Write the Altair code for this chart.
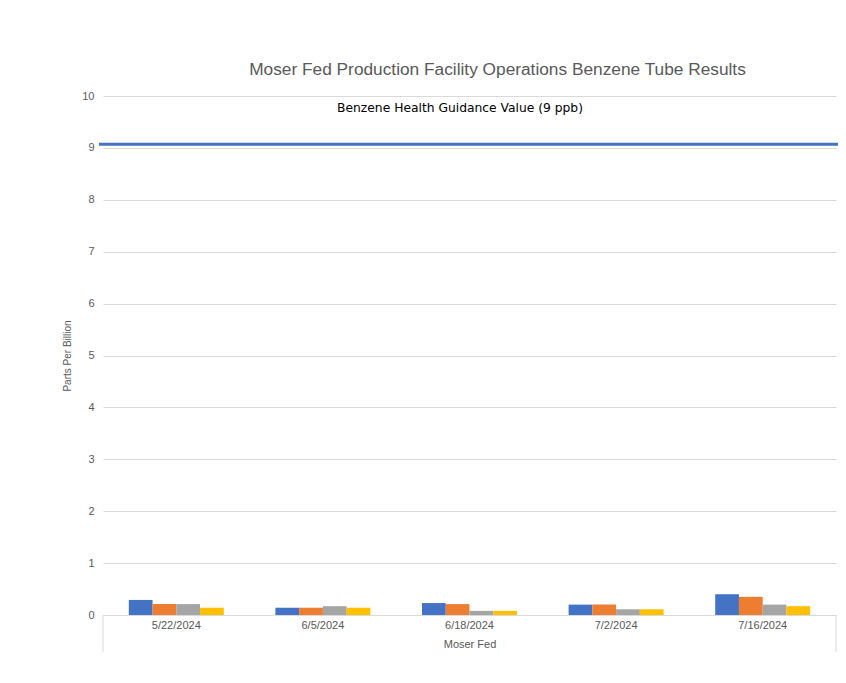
import altair as alt
import pandas as pd

dates = ["5/22/2024", "6/5/2024", "6/18/2024", "7/2/2024", "7/16/2024"]
series = ["Tube 1", "Tube 2", "Tube 3", "Tube 4"]
tube1 = [0.29, 0.14, 0.23, 0.20, 0.40]
tube2 = [0.21, 0.14, 0.21, 0.20, 0.35]
tube3 = [0.21, 0.17, 0.08, 0.11, 0.20]
tube4 = [0.14, 0.14, 0.08, 0.11, 0.17]
colors = ["#4472C4", "#ED7D31", "#A5A5A5", "#FFC000"]
y_ticks = [0, 1, 2, 3, 4, 5, 6, 7, 8, 9, 10]
guidance_value = 9.07
guidance_label = "Benzene Health Guidance Value (9 ppb)"
label_level = 9.77

rows = []
for s, vals in zip(series, [tube1, tube2, tube3, tube4]):
    for d, v in zip(dates, vals):
        rows.append({"date": d, "series": s, "ppb": v})
df = pd.DataFrame(rows)

W, H = 733, 519
GRID = "#d9d9d9"
TXT = "#595959"
FONT = "Liberation Sans"

x_enc = alt.X("date:N", sort=dates,
              scale=alt.Scale(paddingInner=0.352, paddingOuter=0.176),
              axis=alt.Axis(title="Moser Fed", labelAngle=0, ticks=False,
                            domainColor=GRID, labelColor=TXT, labelFontSize=11,
                            labelFont=FONT, labelPadding=4, titleColor=TXT,
                            titleFont=FONT, titleFontSize=11, titleFontWeight="normal",
                            titlePadding=8))

bars = alt.Chart(df).mark_bar().encode(
    x=x_enc,
    xOffset=alt.XOffset("series:N", sort=series, scale=alt.Scale(paddingInner=0, paddingOuter=0)),
    y=alt.Y("ppb:Q", scale=alt.Scale(domain=[0, 10], nice=False),
            axis=alt.Axis(values=y_ticks, title="Parts Per Billion", domain=False, ticks=False,
                          gridColor=GRID, labelColor=TXT, labelFontSize=11, labelFont=FONT,
                          labelPadding=9, titleColor=TXT, titleFont=FONT, titleFontSize=10,
                          titleFontWeight="normal", titlePadding=9)),
    color=alt.Color("series:N", sort=series, scale=alt.Scale(domain=series, range=colors), legend=None),
)

guide = alt.Chart(pd.DataFrame({"v": [guidance_value]})).mark_rule(
    color="#4472C4", strokeWidth=3
).encode(y=alt.Y("v:Q"), x=alt.value(-4), x2=alt.value(745))

label = alt.Chart(pd.DataFrame({"v": [label_level], "t": [guidance_label]})).mark_text(
    font="DejaVu Sans", fontSize=12.3, color="#000000", align="center", baseline="middle"
).encode(y=alt.Y("v:Q"), x=alt.value(357), text="t:N")

edges = alt.Chart(pd.DataFrame({"e": [0, W]})).mark_rule(color=GRID, strokeWidth=1).encode(
    x=alt.X("e:Q", scale=None), y=alt.value(H), y2=alt.value(H + 37)
)

chart = alt.layer(bars, guide, label, edges).properties(
    width=W, height=H,
    title=alt.TitleParams("Moser Fed Production Facility Operations Benzene Tube Results",
                          fontSize=17.3, color=TXT, font=FONT, fontWeight="normal",
                          anchor="middle", dx=28, offset=12),
    autosize=alt.AutoSizeParams(type="none"),
    padding={"left": 95, "top": 88, "right": 2, "bottom": 53},
    background="white",
).configure_view(stroke=None)

chart.save("out.html", embed_options={"renderer": "svg", "actions": False})
